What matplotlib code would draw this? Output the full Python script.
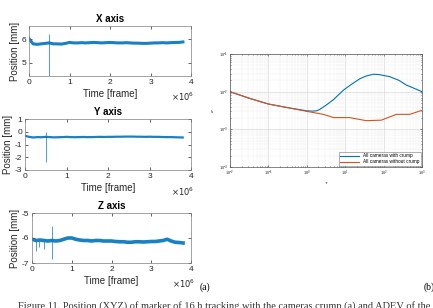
import matplotlib
matplotlib.use("Agg")
import matplotlib.pyplot as plt
import numpy as np

plt.rcParams['font.family'] = ['Liberation Sans', 'DejaVu Sans']
plt.rcParams['axes.unicode_minus'] = False

# time samples (x 10^6 frames)
frames = [0.0, 0.1, 0.2, 0.3, 0.4, 0.5, 0.6, 0.7, 0.8, 0.9,
          1.0, 1.1, 1.2, 1.3, 1.4, 1.5, 1.6, 1.7, 1.8, 1.9,
          2.0, 2.1, 2.2, 2.3, 2.4, 2.5, 2.6, 2.7, 2.8, 2.9,
          3.0, 3.1, 3.2, 3.3, 3.4, 3.5, 3.6, 3.7, 3.8]

pos_x = [6.02, 5.80, 5.78, 5.80, 5.82, 5.84, 5.80, 5.80, 5.79, 5.82,
         5.86, 5.84, 5.84, 5.85, 5.84, 5.85, 5.86, 5.85, 5.84, 5.85,
         5.86, 5.85, 5.84, 5.84, 5.85, 5.84, 5.83, 5.83, 5.82, 5.82,
         5.83, 5.84, 5.84, 5.85, 5.84, 5.85, 5.86, 5.86, 5.88]
pos_y = [-0.32, -0.40, -0.45, -0.42, -0.43, -0.40, -0.42, -0.44, -0.43, -0.42,
         -0.40, -0.42, -0.43, -0.42, -0.41, -0.42, -0.42, -0.41, -0.40, -0.41,
         -0.40, -0.40, -0.39, -0.39, -0.38, -0.38, -0.38, -0.39, -0.39, -0.40,
         -0.39, -0.40, -0.40, -0.41, -0.42, -0.42, -0.43, -0.44, -0.45]
pos_z = [-6.05, -6.10, -6.08, -6.10, -6.12, -6.10, -6.12, -6.10, -6.05, -6.00,
         -6.00, -6.05, -6.08, -6.10, -6.10, -6.12, -6.10, -6.10, -6.12, -6.12,
         -6.12, -6.14, -6.15, -6.15, -6.17, -6.17, -6.15, -6.15, -6.16, -6.15,
         -6.14, -6.14, -6.12, -6.10, -6.05, -6.12, -6.17, -6.18, -6.20]

# spikes: frame, low, high
spikes_x = [(0.5, 4.40, 6.20)]
spikes_y = [(0.5, -2.40, 0.00)]
spikes_z = [(0.5, -6.85, -5.50), (0.1, -6.50, -6.10), (0.17, -6.35, -6.10), (0.3, -6.45, -6.10)]

# Allan deviation
tau_blue = [0.01, 0.03, 0.1, 0.3, 1, 1.4, 1.8, 2.2, 3.2, 5, 9, 15, 24, 35, 54, 75, 145, 250, 390, 600, 1000]
adev_blue = [1e-2, 6.8e-3, 4.7e-3, 3.8e-3, 3.1e-3, 3.05e-3, 3.1e-3, 3.4e-3, 4.4e-3, 6.2e-3,
             1.1e-2, 1.6e-2, 2.2e-2, 2.6e-2, 2.9e-2, 2.85e-2, 2.5e-2, 2.0e-2, 1.5e-2, 1.25e-2, 1e-2]
tau_orange = [0.01, 0.03, 0.1, 0.3, 1, 2.7, 5, 13, 35, 87, 215, 480, 1000]
adev_orange = [1e-2, 6.8e-3, 4.7e-3, 3.8e-3, 3.0e-3, 2.5e-3, 2.05e-3, 2.05e-3, 1.7e-3, 1.75e-3,
               2.5e-3, 2.5e-3, 3.2e-3]

BLUE = '#0072BD'
ORANGE = '#D95319'
GREY = '#262626'

W, H = 433, 308
fig = plt.figure(figsize=(W / 100, H / 100), dpi=100)


def px_axes(left, top, right, bottom):
    return fig.add_axes([left / W, 1 - bottom / H, (right - left) / W, (bottom - top) / H])


def style(ax):
    ax.tick_params(direction='in', length=2, width=0.5, labelsize=6, colors=GREY, pad=2,
                   top=True, right=True)
    for s in ax.spines.values():
        s.set_linewidth(0.5)
        s.set_color('#7f7f7f')


panels = [
    ("X axis", pos_x, spikes_x, (4.45, 6.55), [5, 6], (29, 26, 191, 76), 2.2),
    ("Y axis", pos_y, spikes_y, (-3, 1), [-3, -2, -1, 0, 1], (25, 119, 191, 170), 1.6),
    ("Z axis", pos_z, spikes_z, (-7, -5), [-7, -6, -5], (32, 213, 191, 263), 2.6),
]
for title, vals, spikes, ylim, yt, box, lw in panels:
    ax = px_axes(*box)
    ax.plot(frames, vals, color=BLUE, lw=lw, alpha=0.9, solid_joinstyle='round')
    ax.vlines([s[0] for s in spikes], [s[1] for s in spikes], [s[2] for s in spikes],
              color=BLUE, lw=0.6, alpha=0.8)
    ax.set_xlim(0, 4)
    ax.set_ylim(*ylim)
    ax.set_yticks(yt)
    ax.set_xticks([0, 1, 2, 3, 4])
    style(ax)
    ax.set_title(title, fontsize=7, fontweight='bold', pad=3, color='black')
    ax.set_ylabel("Position [mm]", fontsize=7, labelpad=1, color=GREY)
    ax.set_xlabel("Time [frame]", fontsize=7, labelpad=2, color=GREY)
    ax.text(0.95, -0.42, r"$\times10^6$", transform=ax.transAxes, fontsize=6,
            color=GREY, ha='center', va='center')

# right panel: Allan deviation
axr = px_axes(230, 54, 422, 167)
axr.loglog(tau_blue, adev_blue, color=BLUE, lw=0.8, label='All cameras with crump')
axr.loglog(tau_orange, adev_orange, color=ORANGE, lw=0.8, label='All cameras without crump')
axr.set_xlim(1e-2, 1e3)
axr.set_ylim(1e-4, 1e-1)
axr.grid(True, which='major', color='#d0d0d0', lw=0.4)
axr.grid(True, which='minor', color='#ececec', lw=0.3)
axr.tick_params(which='both', direction='in', labelsize=2.8, colors=GREY, pad=1,
                top=True, right=True, width=0.4)
axr.tick_params(which='major', length=1.5)
axr.tick_params(which='minor', length=0.8)
for s in axr.spines.values():
    s.set_linewidth(0.5)
    s.set_color('#555555')
axr.set_ylabel(r"$\sigma$", fontsize=3, color=GREY, labelpad=2)
axr.set_xlabel(r"$\tau$", fontsize=3, color=GREY, labelpad=2)
axr.legend(loc='lower right', fontsize=3.4, frameon=True, fancybox=False,
           edgecolor='#555555', borderpad=0.3, handlelength=4, labelspacing=0.2,
           borderaxespad=0.3).get_frame().set_linewidth(0.4)

fig.text(205 / W, 1 - 287 / H, "(a)", fontsize=7, family='Liberation Serif',
         ha='center', va='center')
fig.text(424 / W, 1 - 287 / H, "(b)", fontsize=7, family='Liberation Serif',
         ha='left', va='center')
fig.text(18 / W, 1 - 306 / H,
         "Figure 11. Position (XYZ) of marker of 16 h tracking with the cameras crump (a) and ADEV of the",
         fontsize=7.5, family='Liberation Serif', ha='left', va='center', color='#333333')

fig.savefig("out.png", dpi=100)
